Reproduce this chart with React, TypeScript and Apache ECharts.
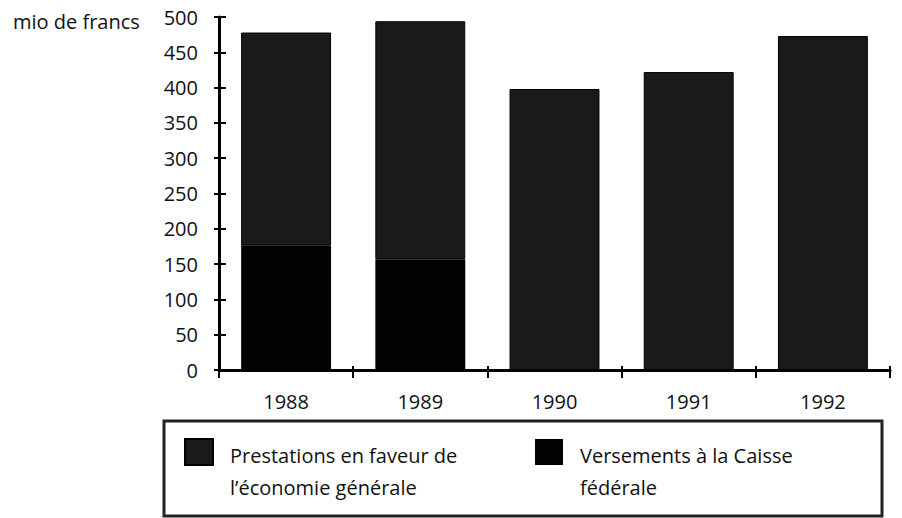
import React, { useEffect, useRef } from "react";
import * as echarts from "echarts";

const years = ["1988", "1989", "1990", "1991", "1992"];
const prestations = [302, 337, 398, 422, 473];
const versements = [176, 157, 0, 0, 0];
const yTicks = { min: 0, max: 500, interval: 50 };
const nameP = "Prestations en faveur de\nl’économie générale";
const nameV = "Versements à la Caisse\nfédérale";
const unitLabel = "mio de francs";

const FONT = "Open Sans";

export default function App() {
  const ref = useRef<HTMLDivElement>(null);
  useEffect(() => {
    const chart = echarts.init(ref.current!, null, { renderer: "svg" });
    const legendText = {
      fontFamily: FONT,
      fontSize: 20,
      color: "#111",
      rich: {
        s: { fontSize: 10, lineHeight: 38 },
        a: { fontFamily: FONT, fontSize: 20, color: "#111", lineHeight: 32, padding: [0, 0, 0, 12] },
      },
    };
    const legendFormatter = (name: string) => {
      const parts = name.split("\n");
      return "{s| }\n" + parts.map((p) => `{a|${p}}`).join("\n");
    };
    const legendBase = {
      orient: "horizontal",
      top: 410,
      padding: 5,
      itemWidth: 28,
      itemHeight: 26,
      icon: "rect",
      textStyle: legendText,
      formatter: legendFormatter,
      selectedMode: false,
    };
    chart.setOption({
      animation: false,
      backgroundColor: "#fff",
      textStyle: { fontFamily: FONT },
      grid: { left: 219, right: 12, top: 17, bottom: 148, containLabel: false },
      xAxis: [
        {
          type: "category",
          data: years,
          position: "bottom",
          axisLine: { show: true, lineStyle: { color: "#000", width: 3 } },
          axisTick: { show: true, inside: false, length: 8, lineStyle: { color: "#000", width: 2 } },
          axisLabel: { color: "#111", fontSize: 20, fontFamily: FONT, margin: 21 },
        },
        {
          type: "category",
          data: years,
          position: "bottom",
          axisLine: { show: false },
          axisTick: { show: true, inside: true, length: 4, lineStyle: { color: "#000", width: 2 } },
          axisLabel: { show: false },
        },
      ],
      yAxis: [
        {
          type: "value",
          ...yTicks,
          position: "left",
          axisLine: { show: true, lineStyle: { color: "#000", width: 3 } },
          axisTick: { show: true, inside: false, length: 5, lineStyle: { color: "#000", width: 2 } },
          axisLabel: {
            color: "#111",
            fontSize: 20,
            fontFamily: FONT,
            margin: 21,
            padding: [6, 0, 0, 0],
          },
          splitLine: { show: false },
        },
        {
          type: "value",
          ...yTicks,
          position: "left",
          axisLine: { show: false },
          axisTick: { show: true, inside: true, length: 7, lineStyle: { color: "#000", width: 2 } },
          axisLabel: { show: false },
          splitLine: { show: false },
        },
      ],
      legend: [
        { ...legendBase, data: [nameP], left: 179 },
        { ...legendBase, data: [nameV], left: 530 },
      ],
      graphic: [
        {
          type: "rect",
          shape: { x: 164, y: 421, width: 718, height: 95 },
          style: { fill: "none", stroke: "#222", lineWidth: 3 },
        },
        {
          type: "text",
          x: 13,
          y: 21,
          style: {
            text: unitLabel,
            fontFamily: FONT,
            fontSize: 20,
            fill: "#111",
            verticalAlign: "middle",
          },
        },
      ],
      series: [
        {
          name: nameV,
          type: "bar",
          stack: "total",
          data: versements,
          barWidth: "67%",
          itemStyle: { color: "#030303" },
        },
        {
          name: nameP,
          type: "bar",
          stack: "total",
          data: prestations,
          barWidth: "67%",
          itemStyle: { color: "#1a1a1a", borderColor: "#000", borderWidth: 1 },
        },
      ],
    });
    return () => chart.dispose();
  }, []);
  return <div ref={ref} style={{ width: 902, height: 518, position: "absolute", left: 0, top: 0 }} />;
}
